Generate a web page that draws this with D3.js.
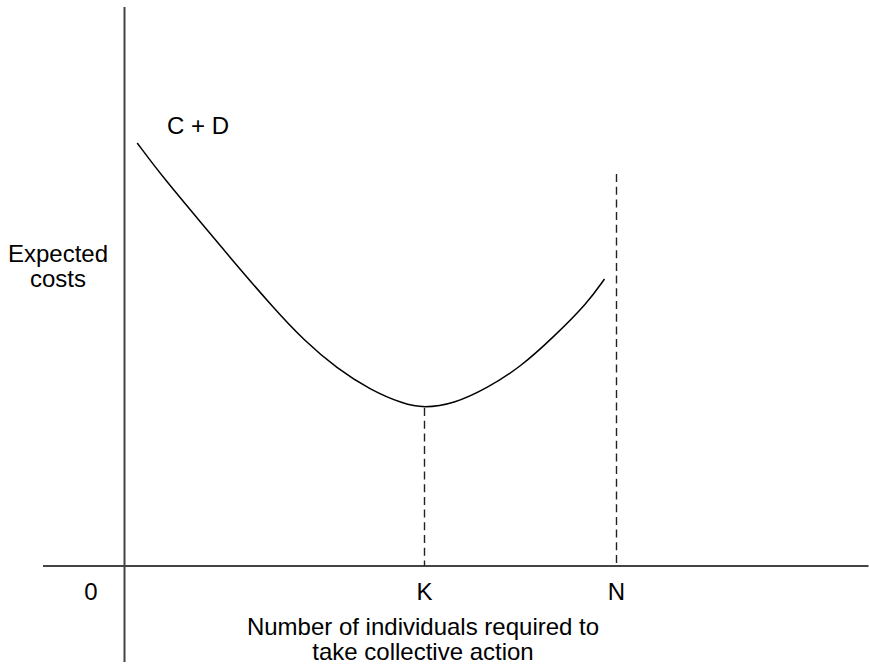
<!DOCTYPE html>
<html>
<head>
<meta charset="utf-8">
<script src="https://cdn.jsdelivr.net/npm/d3@7"></script>
<style>
  html, body { margin: 0; padding: 0; background: #fff; }
  svg { display: block; font-family: "Liberation Sans", Arial, Helvetica, sans-serif; }
</style>
</head>
<body>
<svg id="chart" width="869" height="665"></svg>
<script>
// Data (abstract units: offsets from the origin)
const curveX = [12.7, 39, 72.7, 106, 149, 179, 213, 246, 279, 299, 329, 363, 396, 429, 463, 480];
const curveY = [423, 388, 348, 308, 258, 226, 197, 176, 162, 158, 162, 178, 199, 229, 263, 287];
const markerLabels = ["K", "N"];
const markerX = [300, 492];
const markerTop = [158, 392];
const curveLabel = "C + D";
const yLabel = ["Expected", "costs"];
const xLabel = ["Number of individuals required to", "take collective action"];
const originLabel = "0";

const svg = d3.select("#chart");
const x = d3.scaleLinear().domain([0, 744]).range([124.5, 868.5]);
const y = d3.scaleLinear().domain([0, 560]).range([566, 6]);

// axes
svg.append("line")
  .attr("x1", x(0)).attr("x2", x(0))
  .attr("y1", 7).attr("y2", 662)
  .attr("stroke", "#444").attr("stroke-width", 2);
svg.append("line")
  .attr("x1", 43).attr("x2", x(744))
  .attr("y1", y(0)).attr("y2", y(0))
  .attr("stroke", "#444").attr("stroke-width", 2);

// dashed markers
svg.selectAll("line.marker")
  .data(markerX)
  .enter().append("line")
  .attr("class", "marker")
  .attr("x1", d => x(d)).attr("x2", d => x(d))
  .attr("y1", (d, i) => y(markerTop[i]))
  .attr("y2", y(0))
  .attr("stroke", "#222").attr("stroke-width", 1.4)
  .attr("stroke-dasharray", "8,4.7");

// curve
const pts = curveX.map((d, i) => [d, curveY[i]]);
const line = d3.line().x(d => x(d[0])).y(d => y(d[1])).curve(d3.curveBasis);
svg.append("path")
  .datum(pts)
  .attr("d", line)
  .attr("fill", "none")
  .attr("stroke", "#000")
  .attr("stroke-width", 1.5);

// labels
svg.selectAll("text.mk")
  .data(markerLabels)
  .enter().append("text")
  .attr("class", "mk")
  .attr("x", (d, i) => x(markerX[i]))
  .attr("y", 600)
  .attr("text-anchor", "middle")
  .attr("font-size", 24)
  .text(d => d);

svg.append("text")
  .attr("x", 91).attr("y", 600)
  .attr("text-anchor", "middle")
  .attr("font-size", 24)
  .text(originLabel);

svg.append("text")
  .attr("x", 167).attr("y", 134)
  .attr("font-size", 24)
  .text(curveLabel);

svg.selectAll("text.yl")
  .data(yLabel)
  .enter().append("text")
  .attr("class", "yl")
  .attr("x", 58)
  .attr("y", (d, i) => 262 + i * 25)
  .attr("text-anchor", "middle")
  .attr("font-size", 24)
  .text(d => d);

svg.selectAll("text.xl")
  .data(xLabel)
  .enter().append("text")
  .attr("class", "xl")
  .attr("x", 423)
  .attr("y", (d, i) => 635 + i * 25)
  .attr("text-anchor", "middle")
  .attr("font-size", 24)
  .text(d => d);
</script>
</body>
</html>
